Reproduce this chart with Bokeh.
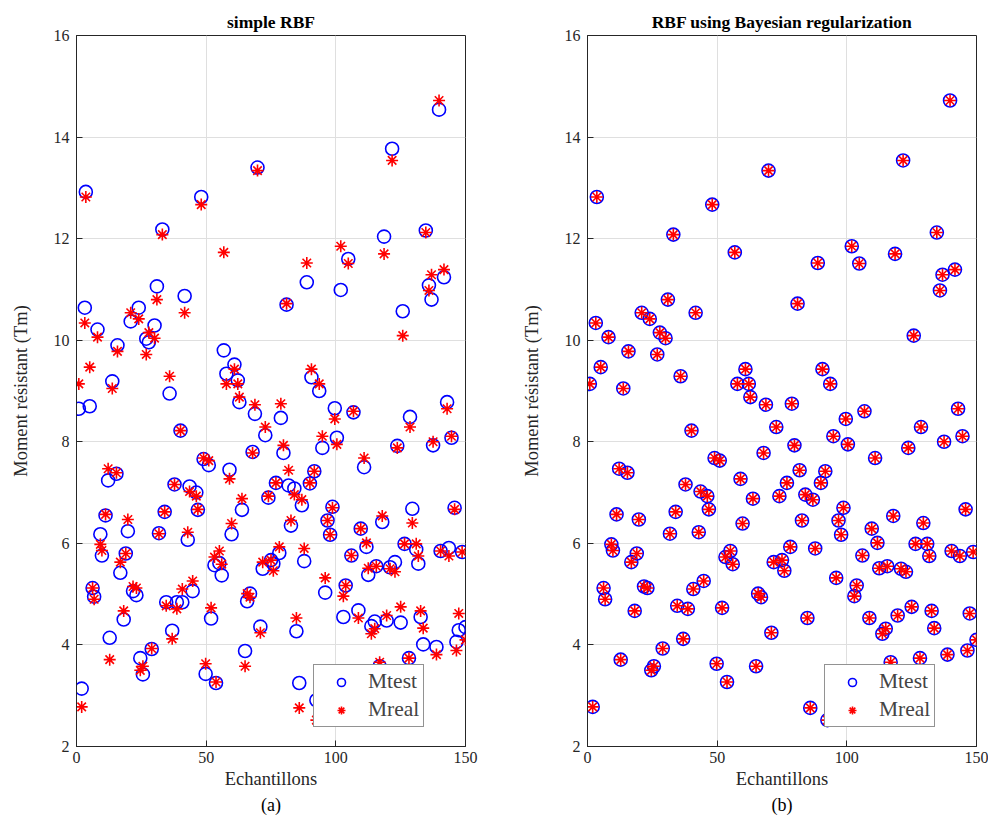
from bokeh.plotting import figure
from bokeh.layouts import row
from bokeh.models import ColumnDataSource, Legend, LegendItem, Title, FixedTicker
from bokeh.embed import file_html
from bokeh.resources import INLINE

# ---- data ----
samples = [0.9, 2.0, 3.2, 3.6, 5.1, 6.2, 6.8, 8.1, 9.2, 9.8, 11.2, 12.2, 12.8, 13.8, 15.4,
           15.8, 16.9, 18.2, 19.0, 19.8, 20.9, 21.8, 23.1, 24.0, 24.6, 25.6, 26.9, 27.9, 29.0, 30.1,
           31.0, 31.8, 33.1, 34.0, 34.6, 35.9, 36.9, 37.8, 38.7, 40.1, 40.8, 41.7, 42.9, 43.6, 44.8,
           46.2, 46.8, 48.1, 49.0, 49.8, 51.0,
           51.9, 53.2, 53.8, 55.1, 56.0, 56.8, 57.8, 59.0, 59.8, 60.9, 62.2, 62.8, 63.8, 65.0, 65.8,
           66.9, 67.9, 68.8, 69.8, 70.9, 71.8, 72.8, 74.0, 75.0, 75.9, 76.9, 78.2, 78.8, 79.8, 81.0,
           81.8, 82.7, 84.0, 84.8, 85.9, 86.9, 87.8, 88.8, 90.0, 90.6, 91.7, 92.5, 93.6, 94.8, 95.9,
           96.8, 97.8, 98.7, 99.6, 100.4,
           101.9, 102.9, 103.8, 104.8, 106.0, 106.8, 108.7, 109.6, 110.9, 111.8, 112.5, 113.7, 115.0,
           115.6, 116.9, 117.9, 118.6, 119.6, 120.9, 121.7, 122.8, 123.7, 125.0, 125.8, 126.5, 128.2,
           128.6, 129.5, 131.0, 131.8, 132.7, 133.7, 134.7, 135.9, 136.9, 137.5, 138.8, 139.8, 140.4,
           141.7, 142.9, 143.6, 144.6, 145.8, 146.5, 147.4, 148.7, 150.0]

mreal = [9.14, 2.78, 10.34, 12.82, 9.47, 5.12, 4.90, 10.06, 5.98, 5.86, 6.57, 7.47, 3.71, 9.05, 7.39,
         9.78, 5.63, 4.67, 5.80, 6.47, 10.54, 5.15, 5.12, 10.42, 3.50, 3.58, 9.72, 10.15, 3.93, 10.04,
         10.80, 6.19, 12.08, 6.62, 4.77, 9.29, 4.12, 7.16, 4.71, 8.22, 5.10, 10.54, 6.22, 7.02, 5.26,
         6.93, 6.67, 12.67, 7.68, 3.63, 7.63,
         4.73, 5.73, 3.27, 5.85, 5.59, 11.73, 9.14, 7.27, 6.39, 9.43, 9.14, 8.88, 6.88, 3.58, 5.01,
         4.94, 7.78, 8.73, 13.34, 4.24, 5.63, 8.29, 6.93, 5.67, 5.46, 7.19, 5.93, 8.75, 7.93, 10.72,
         7.44, 6.45, 6.96, 4.53, 2.76, 6.86, 5.90, 11.52, 7.19, 9.43, 7.42, 2.52, 9.14, 8.11, 5.32,
         6.45, 6.17, 6.70, 8.45, 7.95,
         11.85, 4.96, 5.17, 11.51, 5.76, 8.60, 4.53, 6.29, 7.68, 6.01, 5.51, 4.22, 4.32, 5.55, 3.66,
         6.54, 11.70, 4.58, 5.50, 13.54, 5.44, 7.88, 4.75, 10.09, 5.99, 3.74, 8.29, 6.40, 5.99, 5.75,
         4.67, 4.33, 12.12, 10.98, 11.29, 8.00, 3.81, 14.72, 5.85, 11.39, 8.65, 5.75, 8.11, 6.67, 3.89,
         4.62, 5.83, 4.10]

mtest_simple = [8.65, 3.14, 10.64, 12.92, 8.70, 5.12, 4.95, 10.21, 6.18, 5.76, 6.55, 7.24, 4.14, 9.19, 7.37,
                9.90, 5.42, 4.50, 5.80, 6.24, 10.37, 5.06, 4.98, 10.64, 3.74, 3.42, 10.03, 9.96, 3.92, 10.29,
                11.06, 6.20, 12.18, 6.62, 4.84, 8.95, 4.28, 7.16, 4.84, 8.22, 4.84, 10.87, 6.07, 7.12, 5.06,
                7.00, 6.66, 12.82, 7.66, 3.43, 7.54,
                4.52, 5.57, 3.25, 5.61, 5.37, 9.80, 9.34, 7.45, 6.18, 9.52, 9.21, 8.78, 6.66, 3.88, 4.86,
                5.01, 7.80, 8.55, 13.40, 4.36, 5.50, 8.13, 6.90, 5.67, 5.60, 7.19, 5.81, 8.47, 7.78, 10.70,
                7.14, 6.35, 7.08, 4.27, 3.25, 6.75, 5.65, 11.14, 7.18, 9.27, 7.42, 2.91, 9.00, 7.88, 5.03,
                6.45, 6.17, 6.72, 8.66, 8.08,
                10.99, 4.55, 5.17, 11.60, 5.76, 8.58, 4.68, 6.29, 7.50, 5.93, 5.38, 4.37, 4.46, 5.55, 3.58,
                6.42, 12.04, 4.48, 5.53, 13.77, 5.63, 7.92, 4.44, 10.57, 5.99, 3.74, 8.49, 6.68, 5.88, 5.60,
                4.55, 4.01, 12.16, 11.08, 10.80, 7.93, 3.96, 14.54, 5.85, 11.24, 8.78, 5.91, 8.08, 6.70, 4.06,
                4.29, 5.83, 4.35]

# Bayesian-regularized RBF: predictions coincide with the real values in the picture
mtest_bayes = list(mreal)

titles = ["simple RBF", "RBF using Bayesian regularization"]
sublabels = ["(a)", "(b)"]
x_ticks = [0, 50, 100, 150]
y_ticks = [2, 4, 6, 8, 10, 12, 14, 16]

FONT = "Liberation Serif"
AX = "#262626"


def make_panel(title, sub, mtest, left_border, right_border):
    src = ColumnDataSource(dict(x=samples, real=mreal, test=mtest))
    p = figure(frame_width=389, frame_height=711, x_range=(0, 150), y_range=(2, 16),
               output_backend="svg", toolbar_location=None,
               min_border_left=left_border, min_border_right=right_border,
               min_border_top=35, min_border_bottom=10)
    p.title.text = title
    p.title.align = "center"
    p.title.text_font = FONT
    p.title.text_font_size = "17.5px"
    p.title.text_font_style = "bold"
    p.title.text_color = "black"
    p.title.standoff = 7

    c = p.scatter("x", "test", source=src, marker="circle", size=13, fill_alpha=0,
                  line_color="#0000FF", line_width=1.6)
    a = p.scatter("x", "real", source=src, marker="asterisk", size=12,
                  line_color="#FF0000", line_width=1.6)

    p.xaxis.ticker = FixedTicker(ticks=x_ticks)
    p.yaxis.ticker = FixedTicker(ticks=y_ticks)
    for ax in (p.xaxis[0], p.yaxis[0]):
        ax.axis_line_color = AX
        ax.major_tick_line_color = AX
        ax.major_tick_in = 6
        ax.major_tick_out = 0
        ax.minor_tick_line_color = None
        ax.major_label_text_font = FONT
        ax.major_label_text_font_size = "16px"
        ax.major_label_text_color = AX
        ax.axis_label_text_font = FONT
        ax.axis_label_text_font_size = "18.5px"
        ax.axis_label_text_font_style = "normal"
        ax.axis_label_text_color = AX
    p.xaxis.axis_label = "Echantillons"
    p.xaxis.axis_label_standoff = 3
    p.xaxis.major_label_standoff = 5
    p.yaxis.axis_label = "Moment résistant (Tm)"
    p.yaxis.axis_label_standoff = 20
    p.yaxis.major_label_standoff = 7

    p.grid.grid_line_color = "#dfdfdf"
    p.grid.grid_line_width = 1
    p.outline_line_color = AX
    p.outline_line_width = 1
    p.background_fill_color = "white"

    st = Title(text=sub, align="center", text_font=FONT, text_font_size="18px",
               text_font_style="normal", text_color="black", standoff=2)
    p.add_layout(st, "below")

    leg = Legend(items=[LegendItem(label="Mtest", renderers=[c]),
                        LegendItem(label="Mreal", renderers=[a])],
                 location=(237, 19))
    leg.label_text_font = FONT
    leg.label_text_font_size = "21.5px"
    leg.border_line_color = AX
    leg.border_line_width = 1.5
    leg.padding = 4
    leg.spacing = 3
    leg.glyph_width = 46
    leg.label_standoff = 4
    leg.background_fill_alpha = 1
    p.add_layout(leg)
    return p


p1 = make_panel(titles[0], sublabels[0], mtest_simple, 76, 32)
p2 = make_panel(titles[1], sublabels[1], mtest_bayes, 90, 12)
layout = row(p1, p2)

open("out.html", "w").write(file_html(layout, INLINE))
